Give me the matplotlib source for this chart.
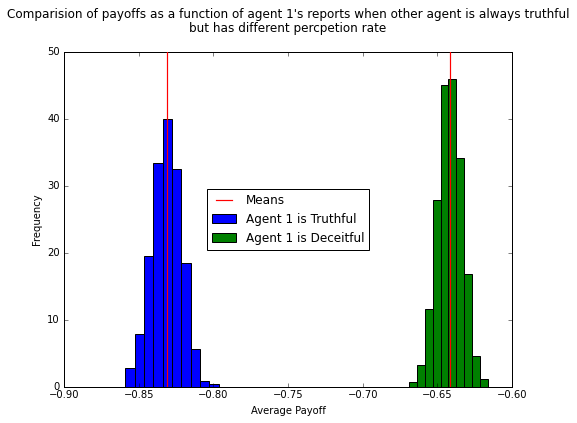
import matplotlib
matplotlib.use("Agg")
import matplotlib.pyplot as plt
import numpy as np

plt.style.use('classic')

# normed histogram values
truthful_left = -0.8589
truthful_width = 0.00625
truthful_density = [2.7, 7.8, 19.5, 33.4, 40.0, 32.5, 18.4, 5.6, 0.8, 0.35]

deceitful_left = -0.6688
deceitful_width = 0.00524
deceitful_density = [0.6, 3.2, 11.6, 27.9, 45.1, 46.0, 34.1, 16.8, 4.6, 1.1]

means = [-0.8312, -0.6415]

fig = plt.figure(figsize=(577 / 72, 423 / 72), dpi=72, facecolor='white')
ax = fig.add_axes([64 / 577, 1 - 386.5 / 423, 448 / 577, 334.5 / 423])

t_edges = truthful_left + truthful_width * np.arange(len(truthful_density))
d_edges = deceitful_left + deceitful_width * np.arange(len(deceitful_density))

ax.bar(t_edges, truthful_density, width=truthful_width, align='edge',
       color='b', edgecolor='k', linewidth=1, label='Agent 1 is Truthful')
ax.bar(d_edges, deceitful_density, width=deceitful_width, align='edge',
       color='g', edgecolor='k', linewidth=1, label='Agent 1 is Deceitful')

for i, m in enumerate(means):
    ax.axvline(m, color='#ff0000', linewidth=1.2, zorder=5,
               label='Means' if i == 0 else None)

ax.set_xlim(-0.9, -0.6)
ax.set_ylim(0, 50)
ax.set_xticks([-0.9, -0.85, -0.8, -0.75, -0.7, -0.65, -0.6])
ax.tick_params(labelsize=10)
ax.set_xlabel('Average Payoff', fontsize=10)
ax.set_ylabel('Frequency', fontsize=10)
ax.set_title("Comparision of payoffs as a function of agent 1's reports when other agent is always truthful\n"
             "but has different percpetion rate", fontsize=12, y=1.045, linespacing=1.1)

handles, labels = ax.get_legend_handles_labels()
order = [labels.index('Means'), labels.index('Agent 1 is Truthful'), labels.index('Agent 1 is Deceitful')]
ax.legend([handles[i] for i in order], [labels[i] for i in order], loc='center', fontsize=12)

fig.savefig('out.png', dpi=72, facecolor='white')
